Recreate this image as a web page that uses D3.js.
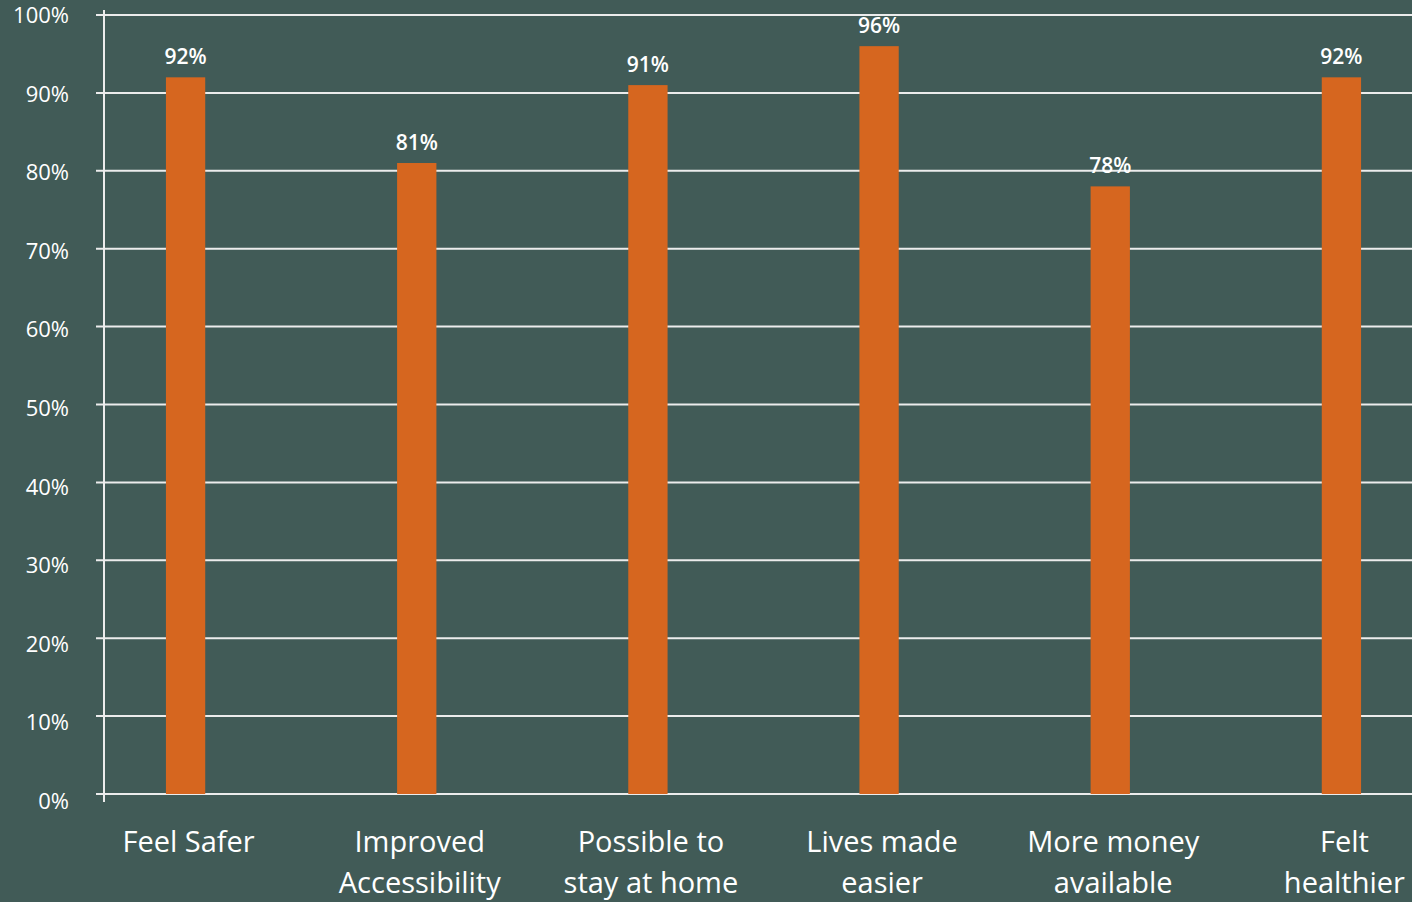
<!DOCTYPE html>
<html>
<head>
<meta charset="utf-8">
<script src="https://cdn.jsdelivr.net/npm/d3@7"></script>
<style>
  html, body { margin: 0; padding: 0; background: #415b57; }
  svg { display: block; }
  text { font-family: "Open Sans", "Noto Sans", sans-serif; fill: #fff; }
</style>
</head>
<body>
<div id="svg-container"></div>
<script>
////////////////////////////////////////////////////////////////////
////////////////////////////  Data  ////////////////////////////////
const categories = [
  ["Feel Safer"],
  ["Improved", "Accessibility"],
  ["Possible to", "stay at home"],
  ["Lives made", "easier"],
  ["More money", "available"],
  ["Felt", "healthier"],
];
const values = [92, 81, 91, 96, 78, 92];
const yTicks = [0, 10, 20, 30, 40, 50, 60, 70, 80, 90, 100];

////////////////////////////////////////////////////////////////////
////////////////////////////  Setup  ///////////////////////////////
const width = 1412;
const height = 902;
const axisX = 104;
const barColor = "#d6661f";
const gridColor = "#ececec";

const svg = d3
  .select("#svg-container")
  .append("svg")
  .attr("width", width)
  .attr("height", height);

const keys = categories.map((d) => d.join(" "));

// scales
const x = d3
  .scaleBand()
  .domain(keys)
  .range([70, 1457])
  .paddingInner(0.83)
  .paddingOuter(0.415);

const y = d3.scaleLinear().domain([0, 100]).range([794, 15]);
// tick labels drift a little lower than the gridlines towards the bottom
const yLabel = d3.scaleLinear().domain([0, 100]).range([801, 15]);

// gridlines
svg
  .selectAll(".grid")
  .data(yTicks)
  .enter()
  .append("line")
  .attr("x1", axisX - 8)
  .attr("x2", width)
  .attr("y1", (d) => y(d))
  .attr("y2", (d) => y(d))
  .attr("stroke", gridColor)
  .attr("stroke-width", 2);

// y axis line
svg
  .append("line")
  .attr("x1", axisX)
  .attr("x2", axisX)
  .attr("y1", y(100) - 5)
  .attr("y2", y(0) + 8)
  .attr("stroke", gridColor)
  .attr("stroke-width", 2);

// tick labels
svg
  .selectAll(".ytick")
  .data(yTicks)
  .enter()
  .append("text")
  .attr("x", 69)
  .attr("y", (d) => yLabel(d) + 8)
  .attr("text-anchor", "end")
  .style("font-size", "22px")
  .text((d) => d + "%");

// bars
svg
  .selectAll(".bar")
  .data(values)
  .enter()
  .append("rect")
  .attr("x", (d, i) => x(keys[i]))
  .attr("y", (d) => y(d))
  .attr("width", x.bandwidth())
  .attr("height", (d) => y(0) - y(d))
  .attr("fill", barColor);

// value labels
svg
  .selectAll(".val")
  .data(values)
  .enter()
  .append("text")
  .attr("x", (d, i) => x(keys[i]) + x.bandwidth() / 2)
  .attr("y", (d) => y(d) - 13)
  .attr("text-anchor", "middle")
  .style("font-size", "21px")
  .style("font-weight", 600)
  .text((d) => d + "%");

// category labels
const catLabels = svg
  .selectAll(".cat")
  .data(categories)
  .enter()
  .append("text")
  .attr("x", (d, i) => x(keys[i]) + x.bandwidth() / 2 + 3)
  .attr("y", 852)
  .attr("text-anchor", "middle")
  .style("font-size", "29px");

catLabels
  .selectAll("tspan")
  .data((d) => d)
  .enter()
  .append("tspan")
  .attr("x", function () {
    return d3.select(this.parentNode).attr("x");
  })
  .attr("dy", (d, i) => (i === 0 ? 0 : 41))
  .text((d) => d);
</script>
</body>
</html>
